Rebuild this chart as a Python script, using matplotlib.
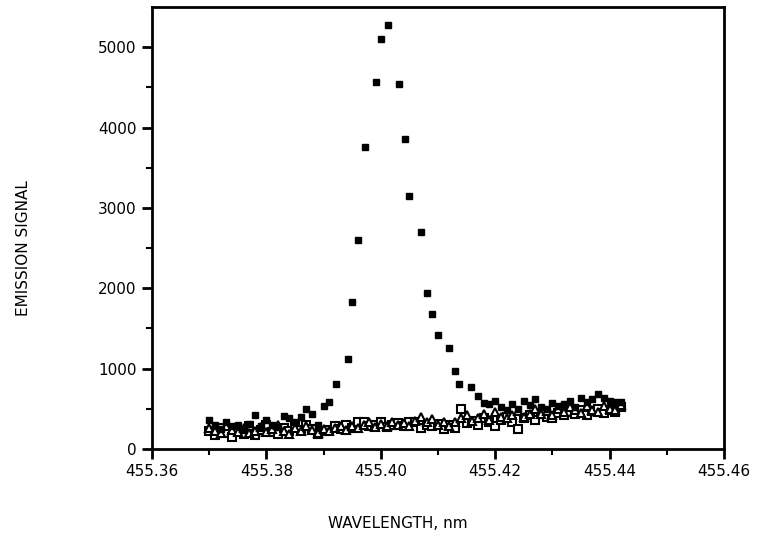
import numpy as np
import matplotlib
matplotlib.use("Agg")
import matplotlib.pyplot as plt

# filled squares: the line itself (peak) plus baseline
wl_peak = [455.370, 455.371, 455.372, 455.373, 455.374, 455.375, 455.376, 455.377,
           455.378, 455.379, 455.380, 455.381, 455.382, 455.383, 455.384, 455.385,
           455.386, 455.387, 455.388, 455.389, 455.390, 455.391, 455.3921, 455.3943,
           455.3950, 455.3961, 455.3972, 455.3991, 455.4001, 455.4012, 455.4031, 455.4042,
           455.4049, 455.4071, 455.4081, 455.4090, 455.4100, 455.4119, 455.4129, 455.4136,
           455.4158, 455.4170, 455.4180, 455.419, 455.420, 455.421, 455.422, 455.423,
           455.424, 455.425, 455.426, 455.427, 455.428, 455.429, 455.430, 455.431,
           455.432, 455.433, 455.434, 455.435, 455.436, 455.437, 455.438, 455.439,
           455.440, 455.441, 455.442]
sig_peak = [360, 300, 250, 340, 280, 300, 240, 310,
            420, 290, 360, 300, 270, 410, 380, 330,
            400, 500, 430, 300, 530, 590, 808, 1119,
            1832, 2596, 3753, 4568, 5100, 5282, 4540, 3856,
            3147, 2695, 1937, 1675, 1414, 1252, 970, 808,
            767, 659, 568, 560, 600, 520, 480, 560,
            500, 600, 550, 620, 520, 500, 570, 540,
            560, 600, 520, 640, 580, 620, 690, 640,
            600, 580, 590]

# open squares and triangles share one wavelength grid
wl_base = [455.370, 455.371, 455.372, 455.373, 455.374, 455.375, 455.376, 455.377,
           455.378, 455.379, 455.380, 455.381, 455.382, 455.383, 455.384, 455.385,
           455.386, 455.387, 455.388, 455.389, 455.390, 455.391, 455.392, 455.393,
           455.394, 455.395, 455.396, 455.397, 455.398, 455.399, 455.400, 455.401,
           455.402, 455.403, 455.404, 455.405, 455.406, 455.407, 455.408, 455.409,
           455.410, 455.411, 455.412, 455.413, 455.414, 455.415, 455.416, 455.417,
           455.418, 455.419, 455.420, 455.421, 455.422, 455.423, 455.424, 455.425,
           455.426, 455.427, 455.428, 455.429, 455.430, 455.431, 455.432, 455.433,
           455.434, 455.435, 455.436, 455.437, 455.438, 455.439, 455.440, 455.441,
           455.442]
sig_square = [220, 180, 260, 200, 150, 230, 190, 280, 170, 240, 300, 210, 190, 260, 220, 280,
              240, 300, 250, 190, 220, 240, 280, 250, 300, 260, 330, 340, 280, 300, 330, 270,
              300, 320, 280, 330, 340, 260, 300, 280, 310, 250, 300, 260, 497, 320, 350, 300,
              380, 330, 290, 360, 400, 340, 250, 380, 420, 360, 440, 400, 380, 450, 420, 460,
              430, 480, 420, 470, 500, 450, 480, 460, 520]
sig_triangle = [260, 230, 200, 280, 240, 210, 260, 200, 230, 270, 210, 250, 300, 230, 190, 260,
                220, 280, 240, 200, 250, 230, 260, 280, 240, 290, 260, 300, 330, 270, 310, 290,
                340, 300, 320, 280, 350, 400, 330, 370, 300, 330, 280, 340, 380, 420, 350, 390,
                430, 360, 460, 400, 380, 420, 470, 400, 440, 500, 430, 470, 420, 500, 460, 520,
                480, 450, 530, 490, 460, 540, 500, 480, 550]

fig = plt.figure(figsize=(7.59, 5.38), dpi=100)
ax = fig.add_axes([152 / 759, 89 / 538, 572 / 759, 442 / 538])

ax.plot(wl_base, sig_square, ls="none", marker="s", ms=5.5, mfc="white", mec="black", mew=1.5)
ax.plot(wl_base, sig_triangle, ls="none", marker="^", ms=5.5, mfc="white", mec="black", mew=1.5)
ax.plot(wl_peak, sig_peak, ls="none", marker="s", ms=5, mfc="black", mec="black")

ax.set_xlim(455.36, 455.46)
ax.set_ylim(0, 5500)
ax.set_xticks([455.36, 455.38, 455.40, 455.42, 455.44, 455.46])
ax.set_xticklabels(["455.36", "455.38", "455.40", "455.42", "455.44", "455.46"])
ax.set_xticks([455.37, 455.39, 455.41, 455.43, 455.45], minor=True)
ax.set_yticks([0, 1000, 2000, 3000, 4000, 5000])
ax.set_yticks([500, 1500, 2500, 3500, 4500], minor=True)

for s in ax.spines.values():
    s.set_linewidth(2)
ax.tick_params(which="major", direction="out", length=7, width=2, labelsize=11, pad=4)
ax.tick_params(which="minor", direction="out", length=4, width=1.5)

fig.text(398 / 759, 1 - 524 / 538, "WAVELENGTH, nm", ha="center", va="center", fontsize=11)
fig.text(24 / 759, 1 - 248 / 538, "EMISSION SIGNAL", ha="center", va="center",
         rotation=90, fontsize=11)

fig.savefig("out.png", dpi=100)
